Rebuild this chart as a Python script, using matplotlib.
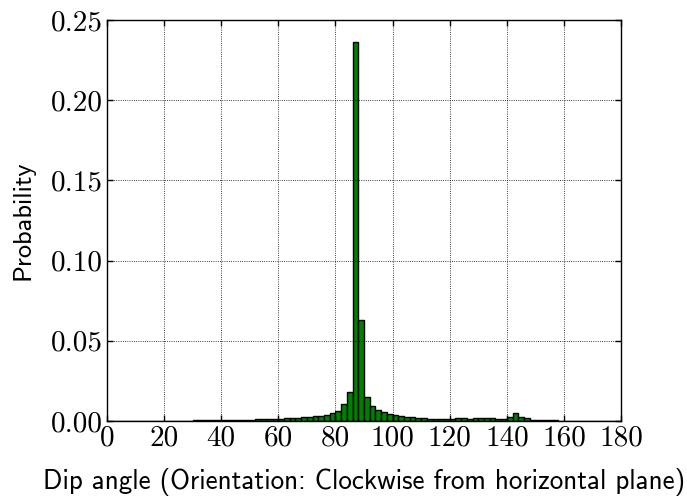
import numpy as np
import matplotlib
matplotlib.use('Agg')
import matplotlib.pyplot as plt

# Histogram of dip angles, bins of 2 degrees from 0 to 180
bin_edges = np.arange(0, 182, 2)
probability = [
    0.0, 0.0, 0.0, 0.0, 0.0, 0.0, 0.0, 0.0, 0.0, 0.0,            # 0-18
    0.0001, 0.0001, 0.0001, 0.0001, 0.0002,                        # 20-28
    0.0003, 0.0003, 0.0004, 0.0004, 0.0005,                        # 30-38
    0.0006, 0.0007, 0.0007, 0.0008, 0.0008,                        # 40-48
    0.0009, 0.0010, 0.0011, 0.0013, 0.0013,                        # 50-58
    0.0015, 0.0017, 0.0019, 0.0021, 0.0023,                        # 60-68
    0.0025, 0.0028, 0.0031, 0.0037, 0.0048,                        # 70-78
    0.0065, 0.0103, 0.0180, 0.2360, 0.0632,                        # 80-88
    0.0152, 0.0092, 0.0067, 0.0054, 0.0045,                        # 90-98
    0.0036, 0.0031, 0.0026, 0.0022, 0.0019,                        # 100-108
    0.0017, 0.0015, 0.0015, 0.0014, 0.0014,                        # 110-118
    0.0015, 0.0018, 0.0018, 0.0015, 0.0016,                        # 120-128
    0.0016, 0.0016, 0.0016, 0.0013, 0.0011,                        # 130-138
    0.0022, 0.0052, 0.0027, 0.0017, 0.0009,                        # 140-148
    0.0005, 0.0004, 0.0003, 0.0003, 0.0002,                        # 150-158
    0.0001, 0.0001, 0.0, 0.0, 0.0,                                 # 160-168
    0.0, 0.0, 0.0, 0.0, 0.0,                                       # 170-178
]
xticks = np.arange(0, 181, 20)
yticks = [0.0, 0.05, 0.10, 0.15, 0.20, 0.25]

fig = plt.figure(figsize=(6.87, 4.97), dpi=100)
ax = fig.add_axes([0.1557, 0.153, 0.7483, 0.807])

ax.hist(bin_edges[:-1], bins=bin_edges, weights=probability,
        color='#008000', edgecolor='k', linewidth=1.0)

ax.set_xlim(0, 180)
ax.set_ylim(0, 0.25)
ax.set_xticks(xticks)
ax.set_yticks(yticks)
ax.set_xticklabels(['%d' % t for t in xticks], fontfamily='cmr10', fontsize=21)
ax.set_yticklabels(['%.2f' % t for t in yticks], fontfamily='cmr10', fontsize=21)
ax.tick_params(direction='in', top=True, right=True, length=4, width=1, pad=3)
ax.grid(True, color='k', linestyle=':', linewidth=0.6)
for s in ax.spines.values():
    s.set_linewidth(1.0)

ax.set_xlabel('Dip angle (Orientation: Clockwise from horizontal plane)',
              fontfamily='cmss10', fontsize=19.5, labelpad=12)
ax.set_ylabel('Probability', fontfamily='cmss10', fontsize=19, labelpad=12)

fig.savefig('out.png', dpi=100)
